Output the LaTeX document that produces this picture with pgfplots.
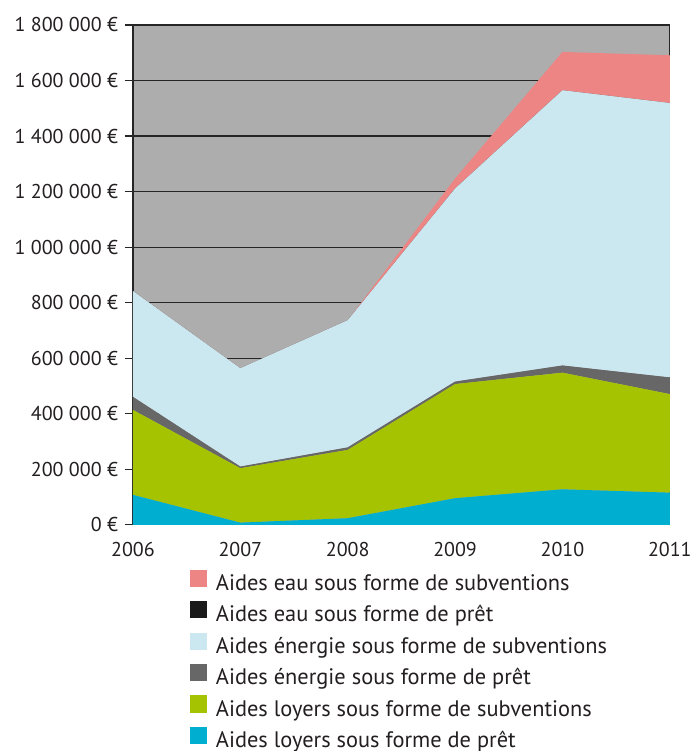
\documentclass[border=0pt]{standalone}
\usepackage{pgfplots}
\pgfplotsset{compat=1.18}
\usepackage{fontspec}
\setmainfont{PT Sans}

\definecolor{cEauS}{HTML}{EE8585}
\definecolor{cEauP}{HTML}{1A1A1A}
\definecolor{cEneS}{HTML}{CBE7F0}
\definecolor{cEneP}{HTML}{676767}
\definecolor{cLoyS}{HTML}{A5C300}
\definecolor{cLoyP}{HTML}{00AECF}
\definecolor{cBg}{HTML}{ADADAD}
\definecolor{cTxt}{HTML}{231F20}

\begin{document}
\begin{tikzpicture}
\begin{axis}[
    scale only axis,
    width=268.5pt, height=250pt,
    xmin=2006, xmax=2011, ymin=0, ymax=1800000,
    stack plots=y,
    xtick={2006,2007,2008,2009,2010,2011},
    xticklabels={2006,2007,2008,2009,2010,2011},
    ytick={0,200000,400000,600000,800000,1000000,1200000,1400000,1600000,1800000},
    yticklabels={0 €,200 000 €,400 000 €,600 000 €,800 000 €,1 000 000 €,1 200 000 €,1 400 000 €,1 600 000 €,1 800 000 €},
    scaled y ticks=false,
    ymajorgrids,
    grid style={black!85, line width=0.6pt},
    axis background/.style={fill=cBg},
    axis line style={black!85, line width=0.6pt},
    ytick pos=left,
    xtick style={draw=none},
    ytick style={black!85, line width=0.6pt},
    tick align=outside,
    major tick length=4pt,
    font=\fontsize{10}{12}\selectfont,
    tick label style={text=cTxt},
    xticklabel style={yshift=-1pt},
    reverse legend,
    legend style={at={(0.105,0)}, anchor=north west, yshift=-22.3pt,
        draw=none, fill=none, inner sep=0pt, font=\fontsize{11.2}{13.4}\selectfont, text=cTxt,
        row sep=3.6pt, cells={anchor=west},
        nodes={inner sep=0pt, text height=8pt, text depth=1.8pt}},
    legend image code/.code={\fill[#1] (0pt,-1.4pt) rectangle (8.6pt,7.2pt);},
]
\addplot[fill=cLoyP, draw=none] coordinates {(2006,108000) (2007,8000) (2008,24000) (2009,96000) (2010,128000) (2011,116000)} \closedcycle;
\addlegendentry{\hspace{4.5pt}Aides loyers sous forme de prêt}
\addplot[fill=cLoyS, draw=none] coordinates {(2006,306000) (2007,196000) (2008,246000) (2009,411000) (2010,420000) (2011,355000)} \closedcycle;
\addlegendentry{\hspace{4.5pt}Aides loyers sous forme de subventions}
\addplot[fill=cEneP, draw=none] coordinates {(2006,47000) (2007,6000) (2008,9000) (2009,9000) (2010,26000) (2011,60000)} \closedcycle;
\addlegendentry{\hspace{4.5pt}Aides énergie sous forme de prêt}
\addplot[fill=cEneS, draw=none] coordinates {(2006,381000) (2007,354000) (2008,458000) (2009,695000) (2010,991000) (2011,988000)} \closedcycle;
\addlegendentry{\hspace{4.5pt}Aides énergie sous forme de subventions}
\addplot[fill=cEauP, draw=none] coordinates {(2006,0) (2007,0) (2008,0) (2009,0) (2010,0) (2011,0)} \closedcycle;
\addlegendentry{\hspace{4.5pt}Aides eau sous forme de prêt}
\addplot[fill=cEauS, draw=none] coordinates {(2006,0) (2007,0) (2008,0) (2009,36000) (2010,138000) (2011,172000)} \closedcycle;
\addlegendentry{\hspace{4.5pt}Aides eau sous forme de subventions}
\draw[black!85, line width=0.6pt] (rel axis cs:0,0) rectangle (rel axis cs:1,1);
\end{axis}
\path (current axis.south west) ++(-66.5pt,-113pt) rectangle ++(347pt,375.5pt);
\end{tikzpicture}
\end{document}
